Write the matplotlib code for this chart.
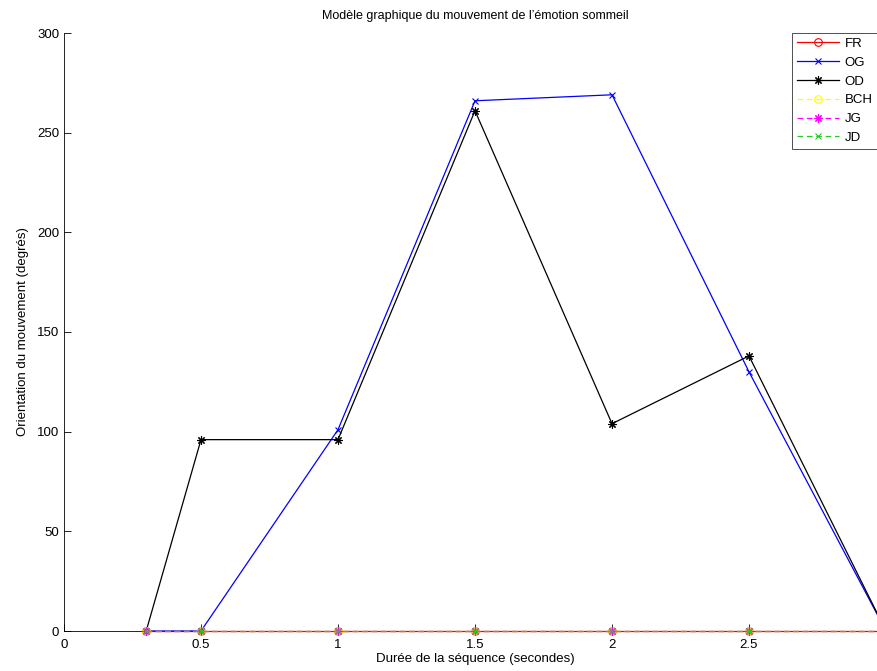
import matplotlib
matplotlib.use("Agg")
from matplotlib import pyplot as plt
import numpy as np

plt.rcParams['font.family'] = ['Liberation Sans', 'DejaVu Sans']

# data
t = np.array([0.3, 0.5, 1.0, 1.5, 2.0, 2.5, 3.0])
fr = np.array([0, 0, 0, 0, 0, 0, 0])
og = np.array([0, 0, 101, 266, 269, 130, 0])
od = np.array([0, 96, 96, 261, 104, 138, 0])
bch = np.array([0, 0, 0, 0, 0, 0, 0])
jg = np.array([0, 0, 0, 0, 0, 0, 0])
jd = np.array([0, 0, 0, 0, 0, 0, 0])

ast = (8, 2, 0)   # matlab-like asterisk
dash = (4.5, 3)

fig = plt.figure(figsize=(8.78, 6.71), dpi=100)
ax = fig.add_axes([64 / 878, 40 / 671, 822 / 878, 598 / 671])

kw = dict(lw=0.9, mew=0.8, clip_on=False, zorder=3)
ax.plot(t, fr, color="red", marker="o", mfc="none", ms=5.5, label="FR", **kw)
ax.plot(t, og, color="blue", marker="x", ms=5, label="OG", **kw)
ax.plot(t, od, color="black", marker=ast, ms=6, label="OD", **kw)
ax.plot(t, bch, color="yellow", dashes=dash, marker="o", mfc="none", ms=5.5, label="BCH", **kw)
ax.plot(t, jg, color="magenta", dashes=dash, marker=ast, ms=6, label="JG", **kw)
ax.plot(t, jd, color="#22cc22", dashes=dash, marker="x", ms=5, label="JD", **kw)

ax.set_xlim(0, 3)
ax.set_ylim(0, 300)
ax.set_xticks([0, 0.5, 1, 1.5, 2, 2.5])
ax.set_xticklabels(["0", "0.5", "1", "1.5", "2", "2.5"])
ax.set_yticks(np.arange(0, 301, 50))
ax.tick_params(direction="in", length=5, labelsize=9.5, width=0.6)
ax.tick_params(axis="x", pad=6)
ax.spines["top"].set_visible(False)
ax.spines["right"].set_visible(False)
for s in ["left", "bottom"]:
    ax.spines[s].set_linewidth(0.6)

ax.set_title("Modèle graphique du mouvement de l’émotion sommeil", fontsize=9, pad=10)
ax.set_xlabel("Durée de la séquence (secondes)", fontsize=9.5, labelpad=1)
ax.set_ylabel("Orientation du mouvement (degrés)", fontsize=9.5, labelpad=6)

leg = fig.legend(loc="upper right", bbox_to_anchor=(877 / 878, 1 - 33 / 671),
                 fontsize=9.5, frameon=True, fancybox=False, edgecolor="black",
                 handlelength=3.2, borderpad=0.35, labelspacing=0.5,
                 handletextpad=0.4, borderaxespad=0)
leg.get_frame().set_linewidth(0.6)

plt.savefig("out.png", dpi=100)
